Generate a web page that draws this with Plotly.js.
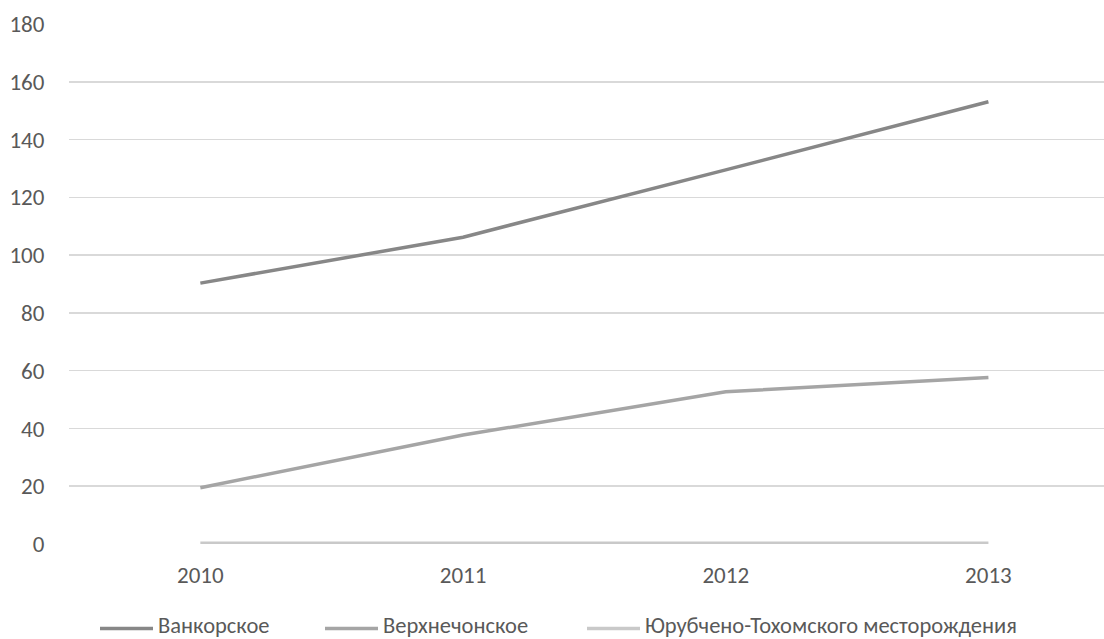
<!DOCTYPE html>
<html>
<head>
<meta charset="utf-8">
<script src="https://cdn.plot.ly/plotly-3.0.1.min.js"></script>
<style>html,body{margin:0;padding:0;background:#fff;overflow:hidden;}#chart{width:1104px;height:639px;}</style>
</head>
<body>
<div id="chart"></div>
<script>
const years = ['2010', '2011', '2012', '2013'];
const vankor = [90.3, 106.2, 129.5, 153.1];
const verkhnechon = [19.5, 37.7, 52.7, 57.6];
const yurubcheno = [0.3, 0.3, 0.3, 0.3];
const seriesNames = ['Ванкорское', 'Верхнечонское', 'Юрубчено-Тохомского месторождения'];
const seriesColors = ['#878787', '#a5a5a5', '#c9c9c9'];
const yTicks = [0, 20, 40, 60, 80, 100, 120, 140, 160, 180];

const font = 'Carlito, Calibri, "Liberation Sans Narrow", "Noto Sans", sans-serif';
const W = 1104, H = 639, ML = 69, MR = 0, MT = 24, MB = 95;
const PW = W - ML - MR, PH = H - MT - MB;
const px2x = p => (p - ML) / PW;
const py2y = p => (H - MB - p) / PH;

const traces = [vankor, verkhnechon, yurubcheno].map((v, i) => ({
  x: years, y: v, type: 'scatter', mode: 'lines', name: seriesNames[i],
  line: {color: seriesColors[i], width: 3.5}
}));

// custom legend (Excel-style long line samples)
const legendStarts = [100, 325, 587];
const legendLineY = 628.5;
const legendTextY = 625;
const shapes = seriesNames.map((n, i) => ({
  type: 'line', xref: 'paper', yref: 'paper',
  x0: px2x(legendStarts[i]), x1: px2x(legendStarts[i] + 53),
  y0: py2y(legendLineY), y1: py2y(legendLineY),
  line: {color: seriesColors[i], width: 3.5}
}));
const annotations = seriesNames.map((n, i) => ({
  xref: 'paper', yref: 'paper', x: px2x(legendStarts[i] + 56), y: py2y(legendTextY),
  xanchor: 'left', yanchor: 'middle', showarrow: false, text: n,
  font: {family: font, size: 22.5, color: '#595959'}
}));

const layout = {
  width: W, height: H,
  margin: {l: ML, r: MR, t: MT, b: MB},
  paper_bgcolor: '#fff', plot_bgcolor: '#fff',
  font: {family: font, size: 23, color: '#595959'},
  showlegend: false,
  shapes: shapes, annotations: annotations,
  xaxis: {type: 'category', range: [-0.5, 3.44], showgrid: false, zeroline: false, showline: false,
          ticks: 'outside', ticklen: 10, tickcolor: 'rgba(0,0,0,0)', fixedrange: true},
  yaxis: {range: [0, 180], tickvals: yTicks, ticktext: yTicks.map(String), showgrid: true, gridcolor: '#d9d9d9', gridwidth: 1.5,
          zeroline: false, showline: false, ticks: 'outside', ticklen: 19, tickcolor: 'rgba(0,0,0,0)', fixedrange: true}
};
Plotly.newPlot('chart', traces, layout, {displayModeBar: false, staticPlot: true});
</script>
</body>
</html>
